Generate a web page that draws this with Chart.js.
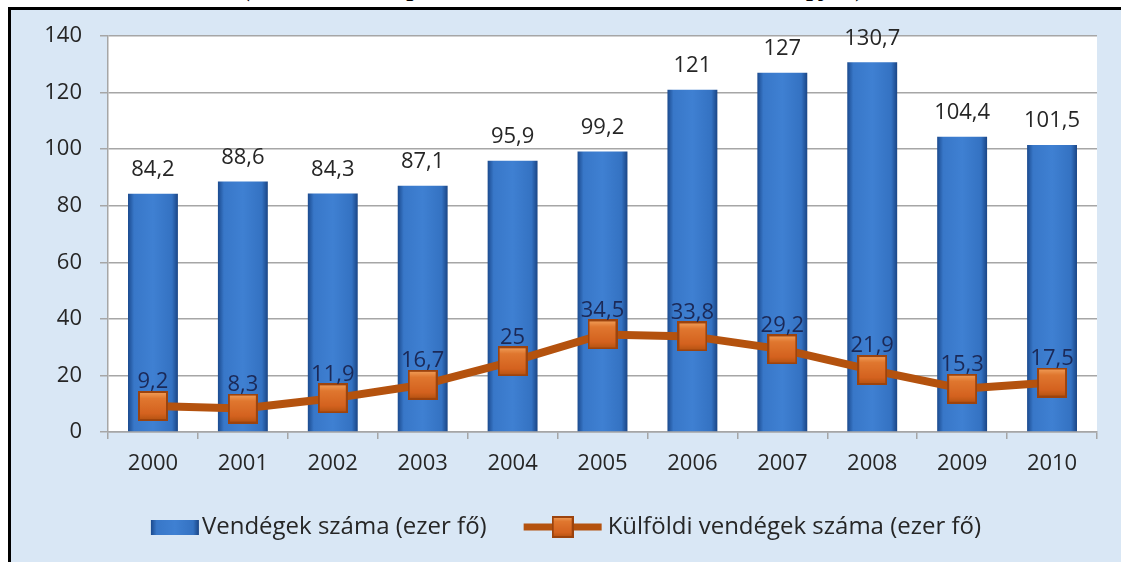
<!DOCTYPE html>
<html>
<head>
<meta charset="utf-8">
<script src="https://cdn.jsdelivr.net/npm/chart.js@4/dist/chart.umd.min.js"></script>
<style>
  body { margin: 0; width: 1121px; height: 562px; overflow: hidden; background: #fff; position: relative; }
  #caption { position: absolute; left: 0; top: -25px; width: 1110px; text-align: center;
             font: italic bold 25px "Liberation Serif"; line-height: 25px; color: #000; letter-spacing: 1px; white-space: nowrap; }
  #frame { position: absolute; left: 8px; top: 7px; right: 0; bottom: 0;
           border-left: 3px solid #000; border-top: 3px solid #000; background: #d9e7f5; }
  #chart { position: absolute; left: 11px; top: 10px; }
</style>
</head>
<body>
<div id="caption">(Forrás: a Központi Statisztikai Hivatal adatai alapján)</div>
<div id="frame"></div>
<canvas id="chart" width="1110" height="552"></canvas>
<script>
var years = ['2000', '2001', '2002', '2003', '2004', '2005', '2006', '2007', '2008', '2009', '2010'];
var vendegek = [84.2, 88.6, 84.3, 87.1, 95.9, 99.2, 121, 127, 130.7, 104.4, 101.5];
var kulfoldi = [9.2, 8.3, 11.9, 16.7, 25, 34.5, 33.8, 29.2, 21.9, 15.3, 17.5];
var seriesNames = ['Vendégek száma (ezer fő)', 'Külföldi vendégek száma (ezer fő)'];

var FONT = '"Open Sans", "Noto Sans", sans-serif';

function fmt(v) {
    return String(v).replace('.', ',');
}

// square marker with a bit of bevel
function makeMarker(size) {
    var c = document.createElement('canvas');
    c.width = size; c.height = size;
    var g = c.getContext('2d');
    g.fillStyle = '#9c430d';
    g.fillRect(0, 0, size, size);
    var grd = g.createLinearGradient(0, 0, 0, size);
    grd.addColorStop(0, '#f4a560');
    grd.addColorStop(0.25, '#e0772f');
    grd.addColorStop(0.75, '#d4621f');
    grd.addColorStop(1, '#b0500f');
    g.fillStyle = grd;
    g.fillRect(2, 2, size - 4, size - 4);
    return c;
}
var marker = makeMarker(30);
var legendMarker = makeMarker(22);

function barGradient(ctx, x0, x1) {
    var grd = ctx.createLinearGradient(x0, 0, x1, 0);
    grd.addColorStop(0, '#1b4a8e');
    grd.addColorStop(0.12, '#3877c8');
    grd.addColorStop(0.5, '#3f80d2');
    grd.addColorStop(0.88, '#3472c2');
    grd.addColorStop(1, '#1a4585');
    return grd;
}

var plotBg = {
    id: 'plotBg',
    beforeDraw: function(chart) {
        var a = chart.chartArea, ctx = chart.ctx;
        ctx.save();
        ctx.fillStyle = '#ffffff';
        ctx.fillRect(a.left, a.top, a.right - a.left, a.bottom - a.top);
        ctx.restore();
    }
};

var valueLabels = {
    id: 'valueLabels',
    afterDatasetsDraw: function(chart) {
        var ctx = chart.ctx;
        ctx.save();
        ctx.font = '22px ' + FONT;
        ctx.textAlign = 'center';
        ctx.textBaseline = 'middle';
        // dataset 1 = bars, dataset 0 = line
        chart.getDatasetMeta(1).data.forEach(function(el, i) {
            ctx.fillStyle = '#262626';
            ctx.fillText(fmt(vendegek[i]), el.x, el.y - 24);
        });
        chart.getDatasetMeta(0).data.forEach(function(el, i) {
            ctx.fillStyle = '#1b2957';
            ctx.fillText(fmt(kulfoldi[i]), el.x, el.y - 24);
        });
        ctx.restore();
    }
};

var customLegend = {
    id: 'customLegend',
    afterDraw: function(chart) {
        var ctx = chart.ctx;
        ctx.save();
        ctx.font = '24px ' + FONT;
        ctx.textBaseline = 'middle';
        var w1 = ctx.measureText(seriesNames[0]).width;
        var w2 = ctx.measureText(seriesNames[1]).width;
        var total = 48 + 3 + w1 + 37 + 78 + 6 + w2;
        var x = chart.width / 2 - total / 2;
        var y = 517;
        // bar icon
        ctx.fillStyle = barGradient(ctx, x, x + 48);
        ctx.fillRect(x, y - 7, 48, 15);
        x += 51;
        ctx.fillStyle = '#262626';
        ctx.fillText(seriesNames[0], x, y);
        x += w1 + 37;
        // line icon
        ctx.strokeStyle = '#b4520e';
        ctx.lineWidth = 7;
        ctx.beginPath();
        ctx.moveTo(x, y); ctx.lineTo(x + 78, y);
        ctx.stroke();
        ctx.drawImage(legendMarker, x + 28, y - 11);
        x += 84;
        ctx.fillText(seriesNames[1], x, y);
        ctx.restore();
    }
};

var ctx = document.getElementById('chart').getContext('2d');
new Chart(ctx, {
    type: 'bar',
    data: {
        labels: years,
        datasets: [{
            type: 'line',
            label: seriesNames[1],
            data: kulfoldi,
            borderColor: '#b4520e',
            borderWidth: 8,
            pointStyle: marker,
            pointRadius: 15,
            order: 0
        }, {
            type: 'bar',
            label: seriesNames[0],
            data: vendegek,
            backgroundColor: function(context) {
                var chart = context.chart;
                if (!chart.chartArea) return '#3a78c9';
                var xs = chart.scales.x;
                var cx = xs.getPixelForValue(context.dataIndex);
                var half = (xs.width / years.length) * 0.555 / 2;
                return barGradient(chart.ctx, cx - half, cx + half);
            },
            borderWidth: 0,
            barPercentage: 0.555,
            categoryPercentage: 1,
            order: 1
        }]
    },
    options: {
        responsive: false,
        animation: false,
        layout: { padding: { top: 26, right: 24, bottom: 68, left: 0 } },
        plugins: {
            legend: { display: false },
            tooltip: { enabled: false }
        },
        scales: {
            x: {
                afterFit: function(scale) { scale.height = 62; },
                grid: { drawOnChartArea: false, color: '#a6a6a6', lineWidth: 1.5, tickLength: 7 },
                border: { color: '#a6a6a6', width: 1.5 },
                ticks: { color: '#262626', font: { family: FONT, size: 22 }, padding: 12 }
            },
            y: {
                min: 0,
                max: 140,
                afterFit: function(scale) {
                    scale.width = 97;
                    scale.paddingTop = 0;
                    scale.paddingBottom = 0;
                },
                grid: { color: '#a6a6a6', lineWidth: 1.5, tickLength: 8 },
                border: { color: '#a6a6a6', width: 1.5 },
                ticks: { stepSize: 20, color: '#262626', font: { family: FONT, size: 22 }, padding: 18 }
            }
        }
    },
    plugins: [plotBg, valueLabels, customLegend]
});
</script>
</body>
</html>
